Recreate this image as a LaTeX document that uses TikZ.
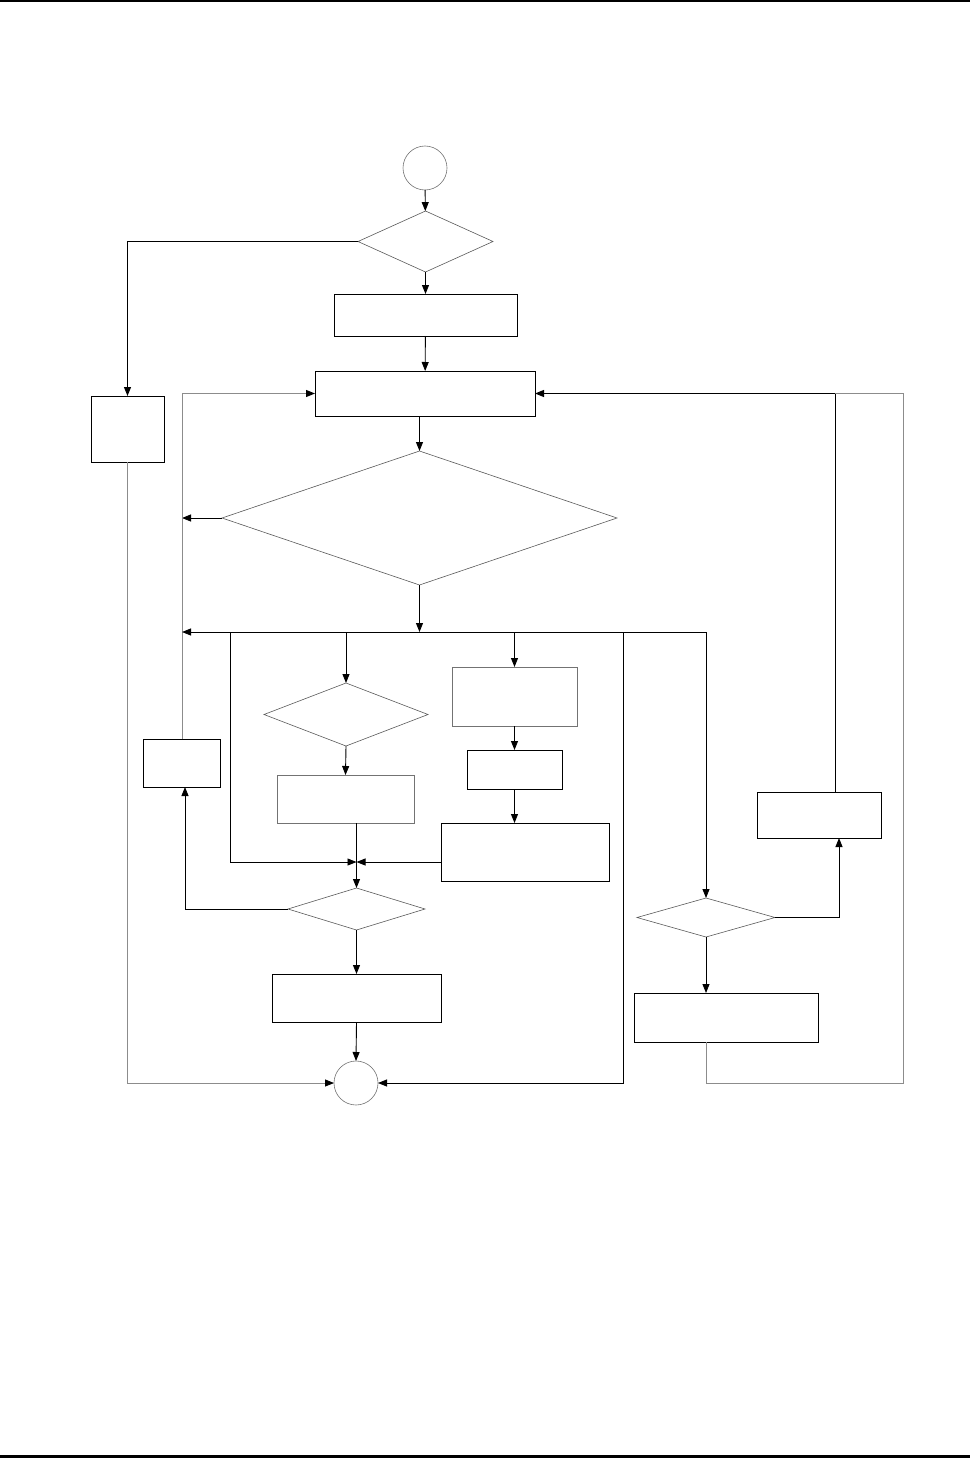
\documentclass[tikz,border=0pt]{standalone}
\usetikzlibrary{shapes.geometric, arrows.meta}

\begin{document}
\begin{tikzpicture}[x=1pt, y=-1pt, line width=0.9pt,
        box/.style={draw, rectangle, inner sep=0pt, outer sep=0pt},
        softbox/.style={box, draw=black!55},
        dec/.style={draw=black!65, line width=0.6pt, diamond, inner sep=0pt, outer sep=0pt},
        term/.style={draw=black!55, line width=0.6pt, circle, inner sep=0pt, outer sep=0pt, minimum size=44pt},
        arr/.style={-{Triangle[length=9pt,width=7pt,color=black]}},
        faint/.style={draw=black!45}]
    \useasboundingbox (0,0) rectangle (970,1458);
    \draw[line width=2.5pt] (0,1) -- (970,1);
    \draw[line width=3pt] (0,1456.5) -- (970,1456.5);

    % nodes
    \node[term] (start) at (425,168) {};
    \node[dec, minimum width=135pt, minimum height=61pt] (d1) at (425.5,241.5) {};
    \node[box, minimum width=183pt, minimum height=42pt] (b1) at (425.5,315) {};
    \node[box, minimum width=220pt, minimum height=45pt] (b2) at (425,393.5) {};
    \node[box, minimum width=73pt, minimum height=66pt] (a1) at (127.5,429) {};
    \node[dec, minimum width=395pt, minimum height=134pt] (d2) at (419.5,518) {};
    \node[dec, minimum width=164pt, minimum height=63pt] (d3) at (346,714.5) {};
    \node[softbox, minimum width=137pt, minimum height=48pt] (b4) at (345.5,799) {};
    \node[softbox, minimum width=125pt, minimum height=59pt] (b3) at (514.5,696.5) {};
    \node[box, minimum width=95pt, minimum height=39pt] (b5) at (514.5,769.5) {};
    \node[box, minimum width=168pt, minimum height=58pt] (b6) at (525,852) {};
    \node[box, minimum width=77pt, minimum height=48pt] (a2) at (182,763) {};
    \node[dec, minimum width=137pt, minimum height=42pt] (d5) at (356.5,909) {};
    \node[box, minimum width=169pt, minimum height=48pt] (b7) at (356.5,998) {};
    \node[term] (stop) at (356,1083) {};
    \node[dec, minimum width=138pt, minimum height=39pt] (d4) at (706,917.5) {};
    \node[box, minimum width=124pt, minimum height=46pt] (b8) at (819,815) {};
    \node[box, minimum width=184pt, minimum height=49pt] (b9) at (726,1017.5) {};

    \coordinate (bus) at (419.5,632);
    \coordinate (brA) at (230,632);
    \coordinate (brB) at (623,632);
    \coordinate (join) at (356.5,862);
    \coordinate (rim) at (903,1083);

    % main column
    \draw[arr] (start) -- (d1);
    \draw[arr] (d1) -- (b1);
    \draw[arr] (b1) -- (b2);
    \draw[arr] (d2.north |- b2.south) -- (d2.north);
    \draw[arr] (d1.west) -| (a1.north);
    \draw[arr] (d2.west) -- (d2.west -| a2.north);
    \draw[arr, faint] (a2.north) |- (b2.west);
    \draw[arr] (d2.south) -- (bus);

    % branches off the bus
    \draw[arr] (bus -| d4.north) -- (bus -| a2.north);
    \draw[arr] (bus -| d4.north) -- (d4.north);
    \draw[arr] (bus -| d3.north) -- (d3.north);
    \draw[arr] (bus -| b3.north) -- (b3.north);
    \draw[arr] (brA) |- (join);
    \draw[arr] (brB) |- (stop.east);

    % inner paths
    \draw[arr] (d3.south) -- (b4.north);
    \draw[arr] (b3.south) -- (b5.north);
    \draw[arr] (b5.south) -- (b5.south |- b6.north);
    \draw[arr] (b6.west |- join) -- (join);
    \draw (b4.south -| join) -- (join);
    \draw[arr] (join) -- (d5.north);
    \draw[arr] (d5.west) -| ([xshift=3pt]a2.south);
    \draw[arr] (d5.south) -- (b7.north);
    \draw[arr] (b7.south) -- (stop.north);
    \draw[arr, faint] (a1.south) |- (stop.west);

    % right loop
    \draw[arr] (d4.east) -| ([xshift=20pt]b8.south);
    \draw[arr] ([xshift=16pt]b8.north) |- (b2.east);
    \draw[arr] (d4.south) -- (d4.south |- b9.north);
    \draw[faint] (d4.south |- b9.south) |- (rim) |- ([xshift=16pt]b8.north |- b2.east);
\end{tikzpicture}
\end{document}
